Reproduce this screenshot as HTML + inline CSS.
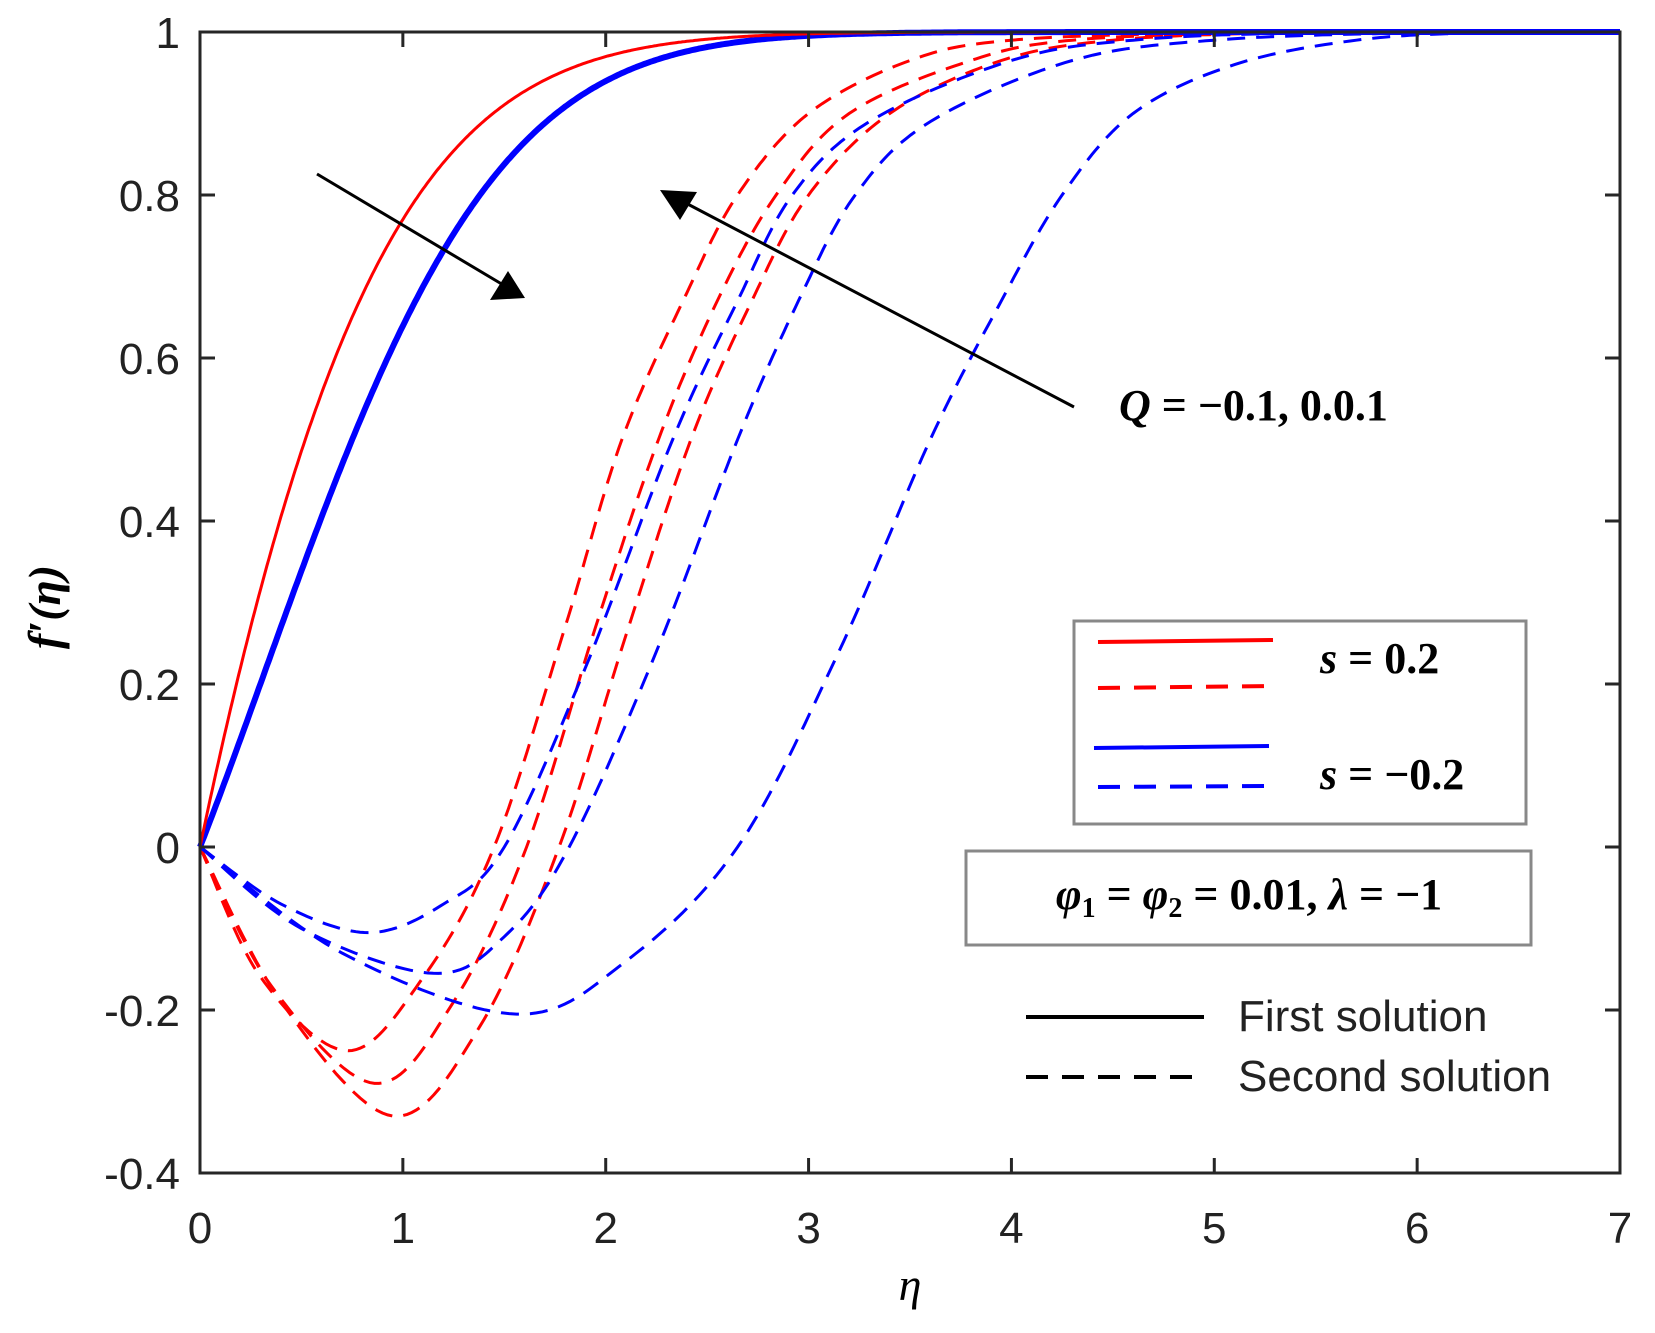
<!DOCTYPE html>
<html><head><meta charset="utf-8"><style>
html,body{margin:0;padding:0;background:#fff;}
svg{display:block;}
text{font-family:"Liberation Sans",sans-serif;fill:#222;}
.m{font-family:"Liberation Serif",serif;fill:#000;}
</style></head><body>
<svg id="s" width="1655" height="1333" viewBox="0 0 1655 1333" xmlns="http://www.w3.org/2000/svg">
<g id="curves" fill="none"></g>
<rect x="200" y="32" width="1420" height="1141" fill="none" stroke="#262626" stroke-width="3"/>
<g id="ticks" stroke="#262626" stroke-width="3"></g>
<g id="labels" font-size="44"></g>
<line x1="317" y1="174" x2="505" y2="286" stroke="#000" stroke-width="3"/>
<polygon points="525,298 490,300 508,271" fill="#000"/>
<line x1="1074" y1="407" x2="680" y2="200" stroke="#000" stroke-width="3"/>
<polygon points="660,190 697,192 680,220" fill="#000"/>
<text class="m" x="1119" y="420" font-size="44" font-weight="bold"><tspan font-style="italic">Q</tspan> = −0.1, 0.0.1</text>
<rect x="1074" y="621" width="452" height="203" fill="#fff" stroke="#888" stroke-width="3"/>
<line x1="1098" y1="642" x2="1273" y2="640" stroke="#f00" stroke-width="4"/>
<line x1="1098" y1="688" x2="1273" y2="686" stroke="#f00" stroke-width="4" stroke-dasharray="22,14"/>
<line x1="1094" y1="748" x2="1269" y2="746" stroke="#00f" stroke-width="4"/>
<line x1="1098" y1="787" x2="1273" y2="786" stroke="#00f" stroke-width="4" stroke-dasharray="22,14"/>
<text class="m" x="1320" y="673" font-size="44" font-weight="bold"><tspan font-style="italic">s</tspan> = 0.2</text>
<text class="m" x="1320" y="789" font-size="44" font-weight="bold"><tspan font-style="italic">s</tspan> = −0.2</text>
<rect x="966" y="851" width="565" height="94" fill="#fff" stroke="#888" stroke-width="3"/>
<text class="m" x="1249" y="909" font-size="44" font-weight="bold" text-anchor="middle"><tspan font-style="italic">φ</tspan><tspan font-size="28" dy="8">1</tspan><tspan dy="-8"> = </tspan><tspan font-style="italic">φ</tspan><tspan font-size="28" dy="8">2</tspan><tspan dy="-8"> = 0.01, </tspan><tspan font-style="italic">λ</tspan> = −1</text>
<line x1="1026" y1="1017" x2="1204" y2="1017" stroke="#000" stroke-width="4"/>
<line x1="1026" y1="1077" x2="1204" y2="1077" stroke="#000" stroke-width="4" stroke-dasharray="22,14"/>
<text x="1238" y="1031" font-size="44">First solution</text>
<text x="1238" y="1091" font-size="44">Second solution</text>
<text class="m" x="910" y="1300" font-size="46" font-style="italic" text-anchor="middle">η</text>
<text class="m" x="0" y="0" font-size="46" font-style="italic" font-weight="bold" text-anchor="middle" transform="translate(60,607) rotate(-90)">f′(η)</text>
</svg>
<script>
var X=function(e){return 200+e*1420/7;}, Y=function(v){return 32+(1-v)*815;};
var NS="http://www.w3.org/2000/svg";
function pathFromFn(f){var d="";for(var i=0;i<=700;i++){var e=i*0.01;d+=(i?"L":"M")+X(e).toFixed(1)+","+Y(f(e)).toFixed(1);}return d;}
function spline(es,vs){
  var pts=[];for(var i=0;i<es.length;i++)pts.push([es[i],vs[i]]);
  var d="M"+X(pts[0][0]).toFixed(1)+","+Y(pts[0][1]).toFixed(1);
  for(var i=0;i<pts.length-1;i++){
    var p0=pts[Math.max(0,i-1)],p1=pts[i],p2=pts[i+1],p3=pts[Math.min(pts.length-1,i+2)];
    for(var t=0.05;t<=1.0001;t+=0.05){
      var t2=t*t,t3=t2*t;
      var ex=0.5*((2*p1[0])+(-p0[0]+p2[0])*t+(2*p0[0]-5*p1[0]+4*p2[0]-p3[0])*t2+(-p0[0]+3*p1[0]-3*p2[0]+p3[0])*t3);
      var vy=0.5*((2*p1[1])+(-p0[1]+p2[1])*t+(2*p0[1]-5*p1[1]+4*p2[1]-p3[1])*t2+(-p0[1]+3*p1[1]-3*p2[1]+p3[1])*t3);
      if(vy>1)vy=1;
      d+="L"+X(ex).toFixed(1)+","+Y(vy).toFixed(1);
    }
  }
  return d;
}
var g=document.getElementById("curves");
function add(d,c,w,dash){var p=document.createElementNS(NS,"path");p.setAttribute("d",d);p.setAttribute("stroke",c);p.setAttribute("stroke-width",w);if(dash)p.setAttribute("stroke-dasharray",dash);g.appendChild(p);}
var dash="18,11";
add(spline([0,0.3,0.73,1.1,1.45,1.8,2.08,2.4,2.65,3.0,3.5,4.0,5,6,7],[0,-0.16,-0.25,-0.16,0,0.27,0.5,0.68,0.8,0.9,0.965,0.99,0.999,1,1]),"#f00",3,dash);
add(spline([0,0.35,0.86,1.25,1.61,1.95,2.26,2.55,2.84,3.2,3.8,4.3,5.2,6,7],[0,-0.17,-0.29,-0.19,0,0.27,0.5,0.67,0.8,0.9,0.965,0.99,0.999,1,1]),"#f00",3,dash);
add(spline([0,0.4,0.95,1.38,1.77,2.1,2.42,2.72,3.0,3.4,3.95,4.5,5.3,6,7],[0,-0.19,-0.33,-0.22,0,0.26,0.5,0.67,0.8,0.9,0.965,0.99,0.999,1,1]),"#f00",3,dash);
add(spline([0,0.4,0.83,1.2,1.5,1.9,2.33,2.65,2.92,3.3,4.0,4.6,5.5,7],[0,-0.07,-0.105,-0.07,0,0.22,0.5,0.67,0.8,0.89,0.965,0.99,0.999,1]),"#00f",3,dash);
add(spline([0,0.5,1.15,1.5,1.82,2.25,2.65,2.95,3.23,3.6,4.3,5.0,6,7],[0,-0.1,-0.155,-0.11,0,0.24,0.5,0.67,0.8,0.89,0.965,0.99,0.999,1]),"#00f",3,dash);
add(spline([0,0.7,1.56,2.1,2.65,3.15,3.6,3.95,4.25,4.6,5.1,5.7,6.3,7],[0,-0.13,-0.205,-0.14,0,0.24,0.5,0.67,0.8,0.9,0.96,0.99,0.999,1]),"#00f",3,dash);
add(pathFromFn(function(e){return 1-Math.exp(-0.635*e-0.385*e*e);}),"#00f",6);
add(pathFromFn(function(e){return 1-Math.exp(-1.19*e-0.28*e*e);}),"#f00",3);
var tk=document.getElementById("ticks"),lb=document.getElementById("labels");
function ln(x1,y1,x2,y2){var l=document.createElementNS(NS,"line");l.setAttribute("x1",x1);l.setAttribute("y1",y1);l.setAttribute("x2",x2);l.setAttribute("y2",y2);tk.appendChild(l);}
function tx(x,y,s,a){var t=document.createElementNS(NS,"text");t.setAttribute("x",x);t.setAttribute("y",y);t.setAttribute("text-anchor",a);t.textContent=s;lb.appendChild(t);}
for(var i=0;i<=7;i++){var x=X(i);ln(x,1173,x,1158);ln(x,32,x,47);tx(x,1243,String(i),"middle");}
var yl=["-0.4","-0.2","0","0.2","0.4","0.6","0.8","1"];
for(var j=0;j<8;j++){var v=-0.4+0.2*j,y=Y(v);ln(200,y,215,y);ln(1620,y,1605,y);tx(180,y+16,yl[j],"end");}
</script>
</body></html>
